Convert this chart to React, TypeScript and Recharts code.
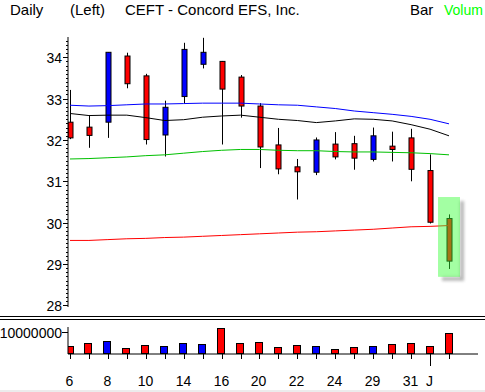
import React from 'react';
import { ComposedChart, BarChart, Bar, Line, XAxis, YAxis, ReferenceArea } from 'recharts';

// ── Data ───────────────────────────────────────────────────────
const days = ['6', '7', '8', '9', '10', '13', '14', '15', '16', '17', '20', '21', '22', '23', '24', '28', '29', '30', '31', '3', '4'];
const monthStartBar = 19; // first bar of June
const labeledBars = [0, 2, 4, 6, 8, 10, 12, 14, 16, 18, 19];

const opens  = [32.43, 32.31, 32.43, 34.03, 33.55, 32.12, 33.05, 33.83, 33.90, 33.52, 32.82, 31.88, 31.35, 31.22, 31.90, 31.91, 31.53, 31.85, 32.05, 31.26, 30.10];
const highs  = [33.21, 32.59, 34.12, 34.11, 33.60, 32.95, 34.35, 34.47, 33.91, 33.57, 32.89, 32.29, 31.54, 32.06, 32.19, 32.10, 32.30, 32.20, 32.27, 31.65, 30.20];
const lows   = [32.02, 31.81, 32.05, 33.25, 31.89, 31.60, 32.89, 33.73, 31.89, 32.54, 31.32, 31.17, 30.56, 31.15, 31.53, 31.28, 31.48, 31.48, 31.00, 29.98, 28.88];
const closes = [32.05, 32.11, 34.12, 33.36, 32.01, 32.79, 34.19, 34.12, 33.23, 32.82, 31.83, 31.30, 31.23, 32.00, 31.59, 31.56, 32.10, 31.77, 31.29, 30.01, 29.07];

const volumes = [3.6, 4.9, 5.9, 2.6, 4.1, 3.6, 4.9, 4.5, 11.7, 4.9, 5.3, 3.0, 4.1, 3.6, 2.1, 3.0, 3.6, 4.5, 4.9, 3.6, 9.7].map(v => v * 1e6);

// moving averages (blue, black, green, red)
const avgBlue  = [32.84, 32.82, 32.83, 32.85, 32.87, 32.87, 32.88, 32.89, 32.89, 32.89, 32.87, 32.85, 32.84, 32.80, 32.76, 32.70, 32.66, 32.62, 32.57, 32.50, 32.39];
const avgBlack = [32.64, 32.59, 32.60, 32.60, 32.54, 32.47, 32.49, 32.55, 32.58, 32.60, 32.55, 32.50, 32.47, 32.42, 32.46, 32.51, 32.50, 32.46, 32.37, 32.26, 32.10];
const avgGreen = [31.54, 31.55, 31.57, 31.59, 31.62, 31.64, 31.68, 31.72, 31.75, 31.77, 31.77, 31.75, 31.74, 31.74, 31.72, 31.71, 31.71, 31.70, 31.69, 31.67, 31.64];
const avgRed   = [29.57, 29.57, 29.59, 29.61, 29.62, 29.64, 29.65, 29.67, 29.69, 29.71, 29.73, 29.75, 29.77, 29.78, 29.80, 29.82, 29.84, 29.87, 29.90, 29.91, 29.93];

// highlighted last session (index range, price range)
const highlightX = [19.42, 20.58];
const highlightY = [28.69, 30.62];

const priceDomain = [27.96, 34.49];
const volumeDomain = [0, 12.3e6];
const xDomain = [-0.105, 21.53];

const FONT = "'Liberation Sans', Arial, sans-serif";
const UP = '#0000ff';
const DOWN = '#ff0000';

const rows = days.map((d, i) => ({
  i,
  day: d,
  open: opens[i], high: highs[i], low: lows[i], close: closes[i],
  volume: volumes[i],
  avgBlue: avgBlue[i], avgBlack: avgBlack[i], avgGreen: avgGreen[i], avgRed: avgRed[i],
}));

const priceTicks = Array.from({ length: 65 }, (_, k) => Math.round((28 + k * 0.1) * 10) / 10);
const dayTicks = rows.map(r => r.i);

// ── Shapes ─────────────────────────────────────────────────────
function Candle(props: any) {
  const { x, y, width, height, payload } = props;
  const top = Math.min(y, y + height);
  const bottom = Math.max(y, y + height);
  const ppu = (bottom - top) / (payload.high - payload.low || 1);
  const yOf = (v: number) => top + (payload.high - v) * ppu;
  const cx = Math.round(x + width / 2) + 0.5;
  const bodyTop = yOf(Math.max(payload.open, payload.close));
  const bodyBot = yOf(Math.min(payload.open, payload.close));
  const fill = payload.close >= payload.open ? UP : DOWN;
  return (
    <g>
      <line x1={cx} x2={cx} y1={top} y2={bottom} stroke="#000" strokeWidth={1} />
      <rect x={cx - 2.5} y={bodyTop} width={5} height={Math.max(bodyBot - bodyTop, 2)} fill={fill} stroke="#000" strokeWidth={1} />
    </g>
  );
}

function VolumeBar(props: any) {
  const { x, y, width, height, payload } = props;
  const fill = payload.close >= payload.open ? UP : DOWN;
  const l = Math.round(x) + 0.5;
  return <rect x={l} y={Math.round(y) + 0.5} width={Math.round(width) - 1} height={Math.max(Math.round(height) - 1, 1)} fill={fill} stroke="#000" strokeWidth={1} />;
}

function Highlight(props: any) {
  const { x, y, width, height } = props;
  return (
    <g>
      <defs>
        <filter id="hlBlur" x="-20%" y="-20%" width="140%" height="140%">
          <feGaussianBlur stdDeviation="1.6" />
        </filter>
      </defs>
      <g filter="url(#hlBlur)" opacity={0.55}>
        <rect x={x + width} y={y + 4} width={4} height={height} fill="#808080" />
        <rect x={x + 4} y={y + height} width={width} height={4} fill="#808080" />
      </g>
      <rect x={x} y={y} width={width} height={height} fill="#33ff33" fillOpacity={0.45} />
    </g>
  );
}

function PriceTick({ x, y, payload }: any) {
  const v = payload.value;
  const major = Math.abs(v - Math.round(v)) < 1e-6;
  const yy = Math.round(y) + 0.5;
  return (
    <g>
      <line x1={x - (major ? 5 : 2)} x2={x} y1={yy} y2={yy} stroke="#000" />
      {major && (
        <text x={x - 6} y={yy + 5} textAnchor="end" fontSize={14} fontFamily={FONT} fill="#000">
          {Math.round(v)}
        </text>
      )}
    </g>
  );
}

function VolumeTick({ x, y }: any) {
  const yy = Math.round(y) + 0.5;
  return (
    <g>
      <line x1={x - 6} x2={x} y1={yy} y2={yy} stroke="#000" />
      <text x={x - 6} y={yy + 5} textAnchor="end" fontSize={14} fontFamily={FONT} fill="#000">10000000</text>
    </g>
  );
}

function DayTick({ x, y, payload }: any) {
  const i = payload.value;
  const cx = Math.round(x) + 0.5;
  const long = i === monthStartBar;
  const label = long ? 'J' : labeledBars.includes(i) ? days[i] : '';
  return (
    <g>
      <line x1={cx} x2={cx} y1={y} y2={y + (long ? 12 : 5)} stroke="#000" />
      {label && (
        <text x={cx - 1} y={y + 32} textAnchor="middle" fontSize={14} fontFamily={FONT} fill="#000">{label}</text>
      )}
    </g>
  );
}

// ── Chart ──────────────────────────────────────────────────────
export default function App() {
  return (
    <div style={{ position: 'relative', width: 485, height: 392, background: '#fff', overflow: 'hidden' }}>
      <style>{'body{margin:0}'}</style>
      <svg width={485} height={392} style={{ position: 'absolute', left: 0, top: 0 }}>
        <g fontFamily={FONT} fontSize={15}>
          <text x={10} y={15} fill="#000">Daily</text>
          <text x={70} y={15} fill="#000">(Left)</text>
          <text x={125} y={15} fill="#000">CEFT - Concord EFS, Inc.</text>
          <text x={410} y={15} fill="#000">Bar</text>
          <text x={444} y={15} fill="#00ff00" fontSize={14}>Volum</text>
        </g>
        <line x1={0} x2={485} y1={316.5} y2={316.5} stroke="#000" />
        <line x1={0} x2={485} y1={319.5} y2={319.5} stroke="#000" />
        <rect x={0} y={390} width={485} height={2} fill="#ececec" />
      </svg>

      <div style={{ position: 'absolute', left: 0, top: 0 }}>
        <ComposedChart width={485} height={316} data={rows} margin={{ top: 37, right: 7, bottom: 9, left: 0 }}>
          <XAxis type="number" dataKey="i" domain={xDomain} allowDataOverflow hide />
          <YAxis
            type="number"
            domain={priceDomain}
            allowDataOverflow
            ticks={priceTicks}
            interval={0}
            width={68}
            tickSize={0}
            tickMargin={0}
            tickLine={false}
            axisLine={{ stroke: '#000' }}
            tick={<PriceTick />}
          />
          <Bar dataKey={(d: any) => [d.low, d.high]} barSize={7} shape={<Candle />} isAnimationActive={false} />
          <Line type="linear" dataKey="avgBlue" stroke="#0000ff" strokeWidth={1} dot={false} isAnimationActive={false} />
          <Line type="linear" dataKey="avgBlack" stroke="#000000" strokeWidth={1} dot={false} isAnimationActive={false} />
          <Line type="linear" dataKey="avgGreen" stroke="#00c000" strokeWidth={1} dot={false} isAnimationActive={false} />
          <Line type="linear" dataKey="avgRed" stroke="#ff0000" strokeWidth={1} dot={false} isAnimationActive={false} />
          <ReferenceArea
            x1={highlightX[0]} x2={highlightX[1]} y1={highlightY[0]} y2={highlightY[1]}
            shape={<Highlight />}
            zIndex={1500}
          />
        </ComposedChart>
      </div>

      <div style={{ position: 'absolute', left: 0, top: 320 }}>
        <BarChart width={485} height={72} data={rows} margin={{ top: 7, right: 7, bottom: 0, left: 0 }}>
          <XAxis
            type="number"
            dataKey="i"
            domain={xDomain}
            allowDataOverflow
            ticks={dayTicks}
            interval={0}
            height={38}
            tickSize={0}
            tickMargin={0}
            tickLine={false}
            axisLine={{ stroke: '#000' }}
            tick={<DayTick />}
          />
          <YAxis
            type="number"
            domain={volumeDomain}
            allowDataOverflow
            ticks={[10000000]}
            interval={0}
            width={68}
            tickSize={0}
            tickMargin={0}
            tickLine={false}
            axisLine={{ stroke: '#000' }}
            tick={<VolumeTick />}
          />
          <Bar dataKey="volume" barSize={8} shape={<VolumeBar />} isAnimationActive={false} />
        </BarChart>
      </div>
    </div>
  );
}
